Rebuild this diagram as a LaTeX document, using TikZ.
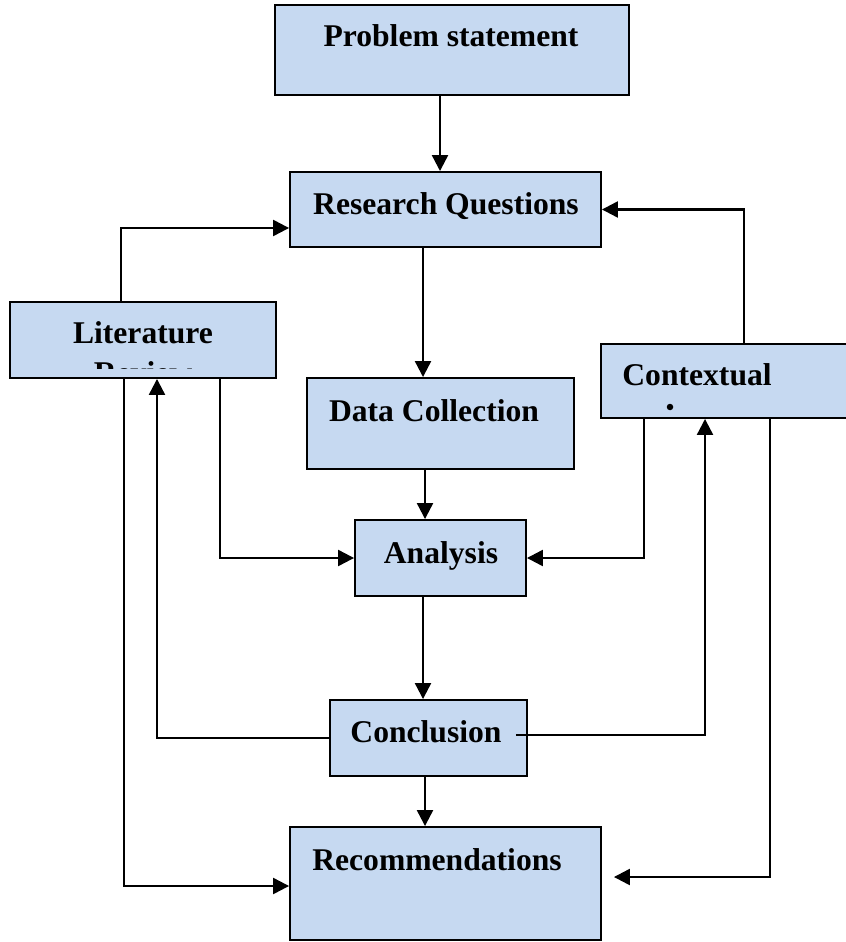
\documentclass[tikz,border=0pt]{standalone}
\usepackage{fontspec}
\setmainfont{Liberation Serif}
\usetikzlibrary{arrows.meta}
\definecolor{boxblue}{HTML}{C6D9F1}
\tikzset{
  box/.style={draw=black,line width=1.1pt,fill=boxblue,inner sep=0pt},
  boxtext/.style={anchor=base,font=\fontsize{18}{23}\selectfont\bfseries,inner sep=0pt},
  arr/.style={line width=1.3pt,-{Triangle[length=0.32cm,width=0.32cm]}}
}

\begin{document}
\begin{tikzpicture}[x=0.02cm,y=-0.02cm]
    \useasboundingbox (0,0) rectangle (845,942);
    % boxes
    \node[box,minimum width=7.08cm,minimum height=1.8cm] (ps) at (452,50) {};
    \node[box,minimum width=6.22cm,minimum height=1.5cm] (rq) at (445.5,209.5) {};
    \node[box,minimum width=5.32cm,minimum height=1.52cm] (lr) at (143,340) {};
    \node[box,minimum width=4.98cm,minimum height=1.48cm] (cx) at (725.5,381) {};
    \node[box,minimum width=5.34cm,minimum height=1.82cm] (dc) at (440.5,423.5) {};
    \node[box,minimum width=3.42cm,minimum height=1.52cm] (an) at (440.5,558) {};
    \node[box,minimum width=3.94cm,minimum height=1.52cm] (cn) at (428.5,738) {};
    \node[box,minimum width=6.22cm,minimum height=2.26cm] (rc) at (445.5,883.5) {};
    %
    % texts
    \node[boxtext] (ps-t) at (451,47) {Problem statement};
    \node[boxtext] (rq-t) at (446,215) {Research Questions};
    \begin{scope}
      \clip ([yshift=0.2cm]lr.south west) rectangle (lr.north east);
      \node[boxtext,anchor=north,align=center] (lr-t) at (143,321) {Literature\\Review};
    \end{scope}
    \node[boxtext,anchor=base west] (cx-t) at (622,385) {Contextual};
    \coordinate (cx-d) at (670,407);
    \fill (cx-d) circle (0.065cm);
    \node[boxtext] (dc-t) at (434,421) {Data Collection};
    \node[boxtext] (an-t) at (441,563) {Analysis};
    \node[boxtext] (cn-t) at (426,742) {Conclusion};
    \node[boxtext] (rc-t) at (437,870) {Recommendations};
    %
    % connectors
    \draw[arr] ([xshift=-0.24cm]ps.south) -- ([xshift=-0.24cm]ps.south |- rq.north);
    \draw[arr] ([xshift=-0.44cm]lr.north) |- ([yshift=-0.37cm]rq.west);
    \draw[arr] ([xshift=0.37cm]cx.north) |- (rq.east);
    \draw[arr] ([xshift=-0.45cm]rq.south) -- ([xshift=-0.45cm]rq.south |- dc.north);
    \draw[arr] ([xshift=-0.31cm]dc.south) -- ([xshift=-0.31cm]dc.south |- an.north);
    \draw[arr] ([xshift=1.54cm]lr.south) |- (an.west);
    \draw[arr] ([xshift=-1.63cm]cx.south) |- (an.east);
    \draw[arr] ([xshift=-0.35cm]an.south) -- ([xshift=-0.35cm]an.south |- cn.north);
    \draw[arr] (cn.west) -| ([xshift=0.28cm]lr.south);
    \draw[arr] ([xshift=-0.24cm,yshift=0.06cm]cn.east) -| ([xshift=-0.41cm]cx.south);
    \draw[arr] ([xshift=-0.07cm]cn.south) -- ([xshift=-0.07cm]cn.south |- rc.north);
    \draw[arr] ([xshift=-0.38cm]lr.south) |- ([yshift=-0.05cm]rc.west);
    \draw[arr] ([xshift=0.89cm]cx.south) |- ([xshift=0.24cm,yshift=0.13cm]rc.east);
  \end{tikzpicture}
\end{document}
